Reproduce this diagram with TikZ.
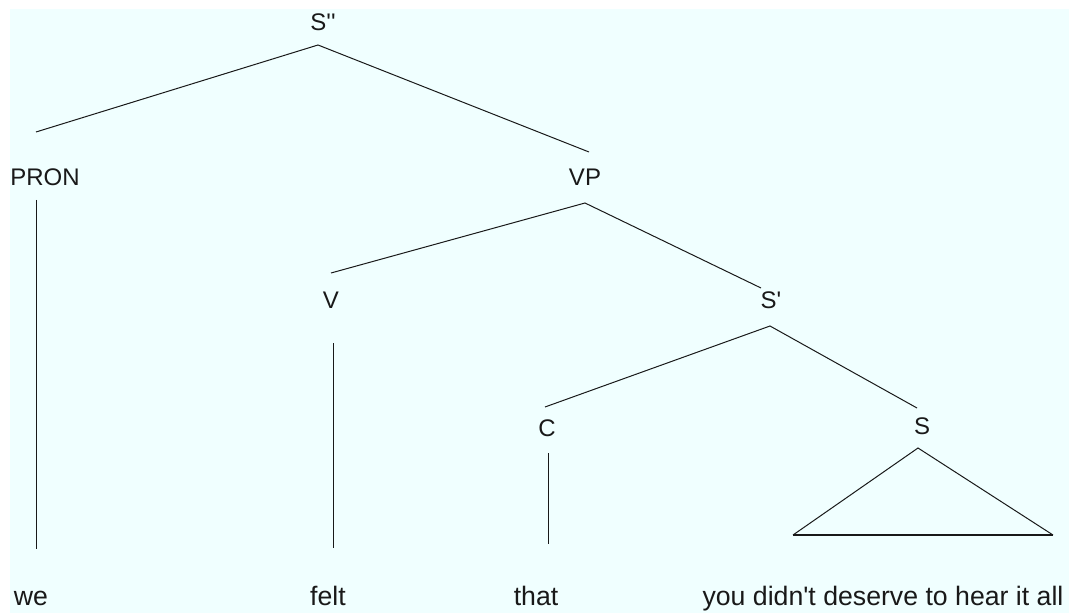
\documentclass[tikz,border=0pt]{standalone}
\usepackage{fontspec}
\setmainfont{Liberation Sans}
\usetikzlibrary{positioning}
\definecolor{treebg}{RGB}{240,255,255}
\definecolor{treeink}{RGB}{25,25,25}
\tikzset{
  cat/.style={font=\fontsize{18}{20}\selectfont,inner sep=0pt,text=treeink},
  leaf/.style={font=\fontsize{20}{22}\selectfont,inner sep=0pt,anchor=base,text=treeink},
  branch/.style={draw=treeink,line width=0.75pt},
  roof/.style={draw=treeink,line width=0.75pt,line join=miter}
}

\begin{document}
\begin{tikzpicture}[x=0.75pt,y=-0.75pt]
  \useasboundingbox (0,0) rectangle (1071,613);
  \fill[treebg] (10,9) rectangle (1069,613);
  % category labels
  \node[cat] (sdd)  at (323,22)  {S\textquotesingle\textquotesingle};
  \node[cat] (pron) at (45,177)  {PRON};
  \node[cat] (vp)   at (585,177) {VP};
  \node[cat] (v)    at (331,300) {V};
  \node[cat] (sd)   at (771,300) {S\textquotesingle};
  \node[cat] (c)    at (547,428) {C};
  \node[cat] (s)    at (922,426) {S};
  % words
  \node[leaf] (we)   at (31,605)  {we};
  \node[leaf] (felt) at (328,605) {felt};
  \node[leaf] (that) at (536,605) {that};
  \node[leaf] (rest) at (883,605) {you didn\textquotesingle t deserve to hear it all};
  % branch ends
  \coordinate (sdd-j)  at (318,45);
  \coordinate (pron-t) at (36,132);
  \coordinate (vp-t)   at (589,152);
  \coordinate (pron-b) at (36,200);
  \coordinate (we-t)   at (36,549);
  \coordinate (vp-j)   at (585,203);
  \coordinate (v-t)    at (331,273);
  \coordinate (sd-t)   at (761,288);
  \coordinate (v-b)    at (333,343);
  \coordinate (felt-t) at (333,548);
  \coordinate (sd-j)   at (770,326);
  \coordinate (c-t)    at (545,407);
  \coordinate (s-t)    at (917,408);
  \coordinate (c-b)    at (548,453);
  \coordinate (that-t) at (548,544);
  \coordinate (s-j)    at (918,448);
  \coordinate (s-l)    at (793,535);
  \coordinate (s-r)    at (1053,535);
  % branches
  \draw[branch] (pron-t) -- (sdd-j) -- (vp-t);
  \draw[branch] (pron-b) -- (we-t);
  \draw[branch] (v-t) -- (vp-j) -- (sd-t);
  \draw[branch] (v-b) -- (felt-t);
  \draw[branch] (c-t) -- (sd-j) -- (s-t);
  \draw[branch] (c-b) -- (that-t);
  \draw[roof] (s-l) -- (s-j) -- (s-r);
  \draw[treeink,line width=1.5pt] (s-l) -- (s-r);
\end{tikzpicture}
\end{document}
